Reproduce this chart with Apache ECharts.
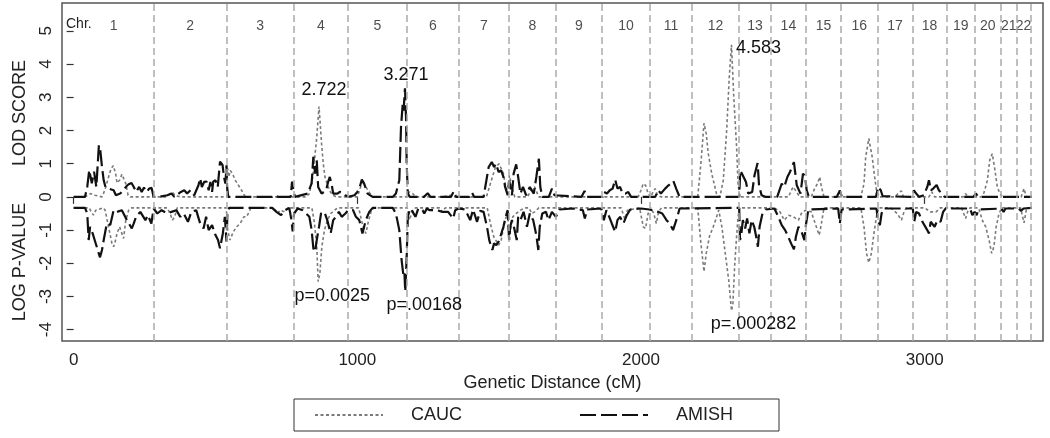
<!DOCTYPE html>
<html>
<head>
<meta charset="utf-8">
<script src="https://cdn.jsdelivr.net/npm/echarts@6/dist/echarts.min.js"></script>
<style>html,body{margin:0;padding:0;background:#fff}#c{width:1050px;height:438px}</style>
</head>
<body>
<div id="c"></div>
<script>
// ---------- DATA (cM, axis value) ----------
const chromNames = ['1','2','3','4','5','6','7','8','9','10','11','12','13','14','15','16','17','18','19','20','21','22'];
const chromEnds = [282,540,775,968,1174,1358,1535,1699,1863,2031,2180,2346,2457,2582,2705,2833,2957,3077,3177,3268,3324,3373];
const xTicks = [0,1000,2000,3000];
const yTicks = [-4,-3,-2,-1,0,1,2,3,4,5];

const caucLod = [[0,0],[40,0],[60,0.1],[75,0.05],[100,0],[110,0.2],[123,0.6],[132,0.85],[140,0.94],[148,0.7],[153,0.42],[162,0.5],[170,0.68],[177,0.71],[184,0.4],[192,0.05],[200,0],
[330,0],[340,0.1],[350,0.12],[360,0.03],[380,0],[540,0],[543,0.85],[547,0.6],[552,0.8],[560,0.7],[570,0.5],[581,0.35],[592,0.2],[605,0],
[820,0],[831,0.1],[843,0.6],[849,1.1],[857,1.8],[865,2.722],[874,1.6],[880,1.0],[886,0.6],[895,0.35],[905,0.15],[915,0.05],[925,0],
[1000,0],[1010,0.25],[1018,0.5],[1030,0.3],[1045,0.1],[1055,0],[1175,0],[1183,0.15],[1195,0.1],[1205,0],
[1300,0],[1330,0.05],[1340,0],
[1455,0],[1469,0.4],[1487,0.9],[1500,1.0],[1507,0.95],[1515,0.7],[1521,0.4],[1530,0.1],[1536,0.65],[1540,0.5],[1548,0.2],[1555,0],
[1600,0],[1615,0.25],[1625,0.3],[1632,0.15],[1640,0],
[1990,0],[2000,0.2],[2008,0.4],[2016,0.35],[2025,0.1],[2035,0],[2042,0.15],[2050,0.25],[2058,0.05],[2070,0],
[2200,0],[2212,1.1],[2222,2.22],[2230,1.9],[2237,1.31],[2249,0.71],[2266,0.1],[2278,0],[2290,0.5],[2302,2.0],[2311,3.6],[2319,4.583],[2327,3.0],[2337,1.5],[2342,0.4],[2348,0],
[2520,0],[2530,0.2],[2537,0.3],[2548,0.15],[2560,0],[2600,0],[2612,0.25],[2622,0.4],[2630,0.6],[2636,0.3],[2645,0],
[2775,0],[2786,0.4],[2792,1.2],[2803,1.76],[2815,1.2],[2822,0.7],[2830,0.2],[2840,0],
[2895,0],[2909,0.13],[2918,0.18],[2925,0],[3015,0],[3025,0.15],[3035,0],[3135,0],[3144,0.1],[3152,0],
[3200,0],[3209,0.13],[3221,0.5],[3229,1.1],[3238,1.3],[3246,0.9],[3256,0.3],[3265,0.1],[3275,0],
[3340,0],[3350,0.25],[3358,0],[3378,0]];

const amishLod = [[0,0],[40,0],[48,0.3],[55,0.81],[64,0.41],[72,0.76],[80,0.3],[89,1.55],[94,1.4],[100,0.9],[106,0.5],[112,0.3],[123,0.25],[141,0.2],[149,0.05],[164,0.1],[176,0.2],[186,0.32],[194,0.38],[204,0.42],[212,0.3],[220,0.15],[231,0.3],[240,0.15],[248,0.28],[258,0.15],[266,0.25],[275,0.27],[282,0],
[300,0],[330,0.05],[345,0.1],[355,0],[378,0.15],[390,0.2],[400,0.1],[412,0.2],[425,0.05],[440,0.35],[446,0.56],[452,0.3],[460,0.45],[469,0.46],[476,0.2],[482,0.45],[488,0.15],[492,0.46],[500,0.5],[508,0.3],[516,1.06],[525,0.96],[530,0.6],[535,0.4],[539,0.95],[541,0.3],[545,0],
[700,0],[708,0.05],[715,0.1],[722,0],[765,0],[770,0.46],[775,0.2],[780,0],
[825,0.1],[839,0.41],[845,1.21],[851,0.7],[857,1.1],[862,0.3],[874,0.1],[890,0.2],[897,0.45],[903,0.6],[910,0.35],[915,0.1],[930,0.1],[938,0.15],[949,0.13],[958,0.05],[968,0],
[990,0.05],[1000,0.15],[1007,0.25],[1016,0.52],[1024,0.4],[1036,0.1],[1054,0],[1125,0],[1136,0.1],[1148,0.5],[1154,2.1],[1160,2.8],[1163,2.6],[1168,3.271],[1172,2.3],[1174,1.0],[1178,0.1],[1185,0],
[1235,0],[1248,0.11],[1258,0],[1330,0],[1340,0.17],[1348,0],
[1395,0],[1404,0.13],[1412,0],[1445,0],[1451,0.3],[1463,0.9],[1474,1.05],[1482,0.9],[1489,1.0],[1498,0.75],[1507,0.8],[1515,0.6],[1521,0.3],[1530,0.05],[1535,0.5],[1539,0.5],[1545,0.05],[1551,0.7],[1560,0.98],[1567,0.6],[1575,0.1],[1584,0.3],[1595,0.05],[1608,0.3],[1622,0.1],[1631,0.6],[1640,1.15],[1645,0.3],[1652,0],
[1675,0],[1686,0.25],[1695,0.05],[1790,0],[1801,0.18],[1810,0],
[1865,0],[1869,0.15],[1880,0.1],[1890,0.2],[1900,0.25],[1909,0.52],[1917,0.25],[1926,0.3],[1935,0.1],[1945,0.1],[1955,0.15],[1965,0],
[2050,0],[2061,0.2],[2070,0.1],[2085,0.25],[2097,0.35],[2105,0.4],[2114,0.48],[2124,0.25],[2136,0],
[2346,0],[2350,0.8],[2356,0.7],[2362,0.65],[2370,0.45],[2378,0.1],[2392,0.15],[2400,0.65],[2411,1.02],[2416,0.35],[2425,0.05],[2440,0],
[2480,0],[2490,0.25],[2496,0.4],[2505,0.3],[2516,0.6],[2525,0.75],[2539,1.05],[2544,0.7],[2549,0.35],[2562,0.1],[2571,0.7],[2578,0.63],[2584,0.2],[2592,0],
[2690,0],[2701,0.19],[2708,0],[2828,0],[2836,0.3],[2845,0.2],[2852,0.02],[2955,0],[2962,0.2],[2970,0.1],[2980,0],[2997,0.05],[3009,0.3],[3015,0.5],[3022,0.2],[3030,0.25],[3042,0.36],[3050,0.2],[3060,0.1],[3070,0],
[3172,0],[3180,0.1],[3190,0],[3378,0]];

const caucLogP = [[0,-0.33],[55,-0.33],[62,-0.45],[70,-0.55],[78,-0.4],[105,-0.33],[111,-0.4],[123,-0.9],[135,-1.4],[141,-1.5],[148,-1.3],[153,-1.1],[162,-0.9],[170,-1.1],[176,-1.25],[184,-0.7],[194,-0.4],[205,-0.33],
[330,-0.33],[340,-0.5],[348,-0.7],[356,-0.6],[365,-0.33],[538,-0.33],[543,-1.0],[551,-1.3],[563,-1.05],[575,-0.9],[587,-0.8],[600,-0.6],[610,-0.6],[625,-0.33],
[705,-0.33],[719,-0.5],[728,-0.4],[745,-0.45],[755,-0.33],
[840,-0.33],[849,-0.8],[857,-1.5],[862,-2.55],[868,-2.3],[875,-1.5],[884,-1.0],[895,-0.7],[906,-0.5],[920,-0.4],[930,-0.33],
[1005,-0.33],[1012,-0.6],[1020,-0.9],[1030,-1.1],[1040,-0.7],[1050,-0.4],[1060,-0.33],[1176,-0.33],[1183,-0.7],[1192,-0.5],[1205,-0.33],
[1290,-0.33],[1300,-0.45],[1310,-0.33],
[1458,-0.33],[1469,-0.8],[1481,-1.2],[1498,-1.45],[1507,-1.3],[1521,-0.7],[1530,-0.5],[1536,-1.3],[1540,-1.0],[1548,-0.6],[1560,-0.5],[1575,-0.4],[1590,-0.33],
[1605,-0.33],[1615,-0.5],[1625,-0.45],[1640,-0.33],
[1930,-0.33],[1943,-0.67],[1952,-0.4],[1995,-0.33],[2008,-0.9],[2016,-0.95],[2025,-0.5],[2035,-0.33],[2045,-0.5],[2054,-0.8],[2062,-0.45],[2072,-0.33],
[2200,-0.33],[2210,-1.3],[2222,-2.25],[2230,-1.7],[2241,-1.2],[2259,-0.8],[2274,-0.4],[2285,-0.9],[2297,-1.7],[2309,-2.5],[2319,-3.43],[2324,-3.2],[2330,-2.1],[2336,-1.3],[2342,-0.6],[2348,-0.33],
[2470,-0.33],[2490,-0.45],[2505,-0.7],[2520,-0.55],[2537,-0.6],[2555,-0.7],[2565,-0.5],[2580,-0.4],[2600,-0.45],[2614,-0.8],[2628,-1.15],[2634,-0.9],[2645,-0.33],
[2775,-0.33],[2786,-0.9],[2795,-1.7],[2803,-1.98],[2812,-1.7],[2821,-1.1],[2830,-0.6],[2838,-0.33],
[2880,-0.33],[2903,-0.5],[2918,-0.7],[2927,-0.45],[2935,-0.33],[3000,-0.33],[3020,-0.45],[3040,-0.45],[3055,-0.33],
[3130,-0.33],[3144,-0.65],[3153,-0.4],[3160,-0.33],[3190,-0.33],[3203,-0.7],[3215,-0.9],[3227,-1.3],[3236,-1.7],[3244,-1.5],[3252,-0.9],[3262,-0.5],[3272,-0.33],
[3338,-0.33],[3350,-0.78],[3358,-0.4],[3365,-0.33],[3378,-0.33]];

const amishLogP = [[0,-0.33],[40,-0.33],[48,-0.5],[53,-1.3],[58,-0.9],[67,-1.1],[76,-1.35],[85,-1.6],[93,-1.82],[100,-1.6],[106,-1.3],[117,-0.8],[129,-0.85],[141,-0.4],[153,-0.45],[170,-0.4],[188,-0.7],[205,-0.95],[212,-0.8],[220,-0.6],[235,-0.45],[253,-0.7],[262,-0.55],[274,-0.8],[282,-0.35],
[295,-0.5],[310,-0.4],[330,-0.5],[345,-0.45],[362,-0.4],[376,-0.6],[388,-0.5],[403,-0.75],[415,-0.45],[432,-0.4],[446,-0.8],[458,-0.95],[467,-0.6],[476,-1.0],[488,-0.85],[500,-1.15],[509,-1.3],[516,-1.55],[526,-1.1],[533,-0.6],[539,-1.35],[542,-0.5],[548,-0.33],
[700,-0.33],[715,-0.45],[731,-0.55],[745,-0.4],[760,-0.33],[768,-0.7],[772,-1.04],[777,-0.5],[790,-0.35],[807,-0.4],[831,-0.6],[839,-1.0],[845,-1.55],[851,-1.65],[857,-1.3],[865,-0.9],[872,-0.5],[884,-0.45],[894,-0.7],[906,-1.1],[915,-0.7],[925,-0.6],[935,-0.45],[945,-0.6],[958,-0.5],[968,-0.4],
[985,-0.4],[995,-0.6],[1007,-0.7],[1018,-1.1],[1030,-0.7],[1042,-0.45],[1054,-0.33],[1125,-0.33],[1136,-0.5],[1148,-1.0],[1156,-1.9],[1163,-2.4],[1166,-2.3],[1169,-2.85],[1174,-1.8],[1178,-0.6],[1186,-0.35],
[1195,-0.45],[1205,-0.6],[1215,-0.35],[1230,-0.4],[1236,-0.5],[1245,-0.35],[1255,-0.4],[1280,-0.4],[1300,-0.45],[1320,-0.45],[1338,-0.65],[1345,-0.4],[1357,-0.35],
[1380,-0.38],[1398,-0.7],[1408,-0.38],[1422,-0.75],[1433,-0.42],[1445,-0.45],[1457,-0.9],[1465,-1.3],[1476,-1.6],[1482,-1.4],[1490,-1.45],[1498,-1.35],[1504,-1.2],[1515,-0.9],[1523,-0.6],[1530,-0.4],[1535,-1.3],[1539,-0.9],[1545,-0.7],[1552,-0.9],[1557,-1.1],[1562,-1.3],[1567,-0.6],[1575,-0.7],[1586,-0.45],[1598,-0.9],[1608,-0.5],[1620,-0.7],[1631,-1.15],[1638,-1.6],[1643,-0.9],[1652,-0.5],[1665,-0.45],[1674,-0.7],[1686,-0.45],[1700,-0.6],[1712,-0.38],
[1760,-0.35],[1795,-0.4],[1802,-0.65],[1810,-0.38],[1860,-0.35],[1869,-0.7],[1878,-0.4],[1888,-0.6],[1897,-0.8],[1909,-1.05],[1917,-0.7],[1926,-0.6],[1938,-0.8],[1950,-0.55],[1962,-0.38],[2000,-0.35],[2030,-0.38],
[2060,-0.45],[2075,-0.5],[2090,-0.7],[2101,-0.8],[2113,-1.0],[2119,-1.05],[2128,-0.6],[2136,-0.35],
[2346,-0.33],[2349,-1.3],[2354,-1.1],[2359,-0.7],[2367,-0.95],[2374,-0.65],[2382,-1.1],[2390,-0.7],[2399,-0.9],[2406,-1.2],[2412,-1.5],[2418,-0.9],[2428,-0.5],[2440,-0.38],
[2470,-0.35],[2484,-0.6],[2496,-0.85],[2508,-1.0],[2519,-1.2],[2529,-1.4],[2539,-1.58],[2546,-1.2],[2555,-0.9],[2566,-1.05],[2576,-1.3],[2582,-0.8],[2590,-0.38],
[2695,-0.35],[2701,-0.8],[2707,-0.38],[2830,-0.35],[2836,-0.75],[2842,-0.85],[2848,-0.5],[2855,-0.35],
[2958,-0.35],[2963,-0.75],[2970,-0.45],[2980,-0.5],[2992,-0.75],[3009,-1.0],[3015,-1.1],[3021,-0.75],[3027,-0.7],[3035,-0.9],[3045,-0.7],[3056,-0.75],[3065,-0.45],[3074,-0.35],
[3160,-0.35],[3168,-0.55],[3176,-0.45],[3183,-0.55],[3190,-0.38],[3270,-0.35],[3278,-0.45],[3285,-0.35],[3330,-0.35],[3340,-0.42],[3348,-0.35],[3378,-0.33]];

const lodNotes = [['2.722',865,2.722],['3.271',1168,3.271],['4.583',2319,4.583]];
const pNotes = [['p=0.0025',862,-2.55],['p=.00168',1169,-2.85],['p=.000282',2319,-3.43]];

// ---------- CHART ----------
const FONT = 'Liberation Sans, Arial, sans-serif';
const chrLabelY = 5.15;
const starts = [0].concat(chromEnds.slice(0, -1));
const chrLabelData = chromNames.map((n, i) => ({ name: n, value: [(starts[i] + chromEnds[i]) / 2, chrLabelY] }));

const lodOffsets = [[5,-16],[1,-13],[27,3]];
const pOffsets = [[14,14],[19,14],[22,13]];
function notes(list, offs) {
  return list.map((n, i) => ({
    coord: [n[1], n[2]], symbol: 'circle', symbolSize: 0,
    label: { show: true, formatter: n[0], position: 'inside', offset: offs[i],
      color: '#111', fontSize: 18, fontFamily: FONT, align: 'center', verticalAlign: 'middle' }
  }));
}

const caucStyle = { color: '#7a7a7a', width: 1.6, type: [3, 2.5] };
const amishStyle = { color: '#111', width: 2.2, type: [16, 5] };

const chart = echarts.init(document.getElementById('c'), null, { renderer: 'canvas' });
chart.setOption({
  animation: false,
  backgroundColor: '#fff',
  grid: { left: 62, top: 3, right: 7, bottom: 97, show: true, borderColor: '#555', borderWidth: 1.5, backgroundColor: 'transparent' },
  xAxis: {
    type: 'value', min: -41, max: 3417,
    axisLine: { show: false },
    axisTick: { show: true, length: 7, lineStyle: { color: '#333', width: 1.2 }, customValues: xTicks },
    axisLabel: { customValues: xTicks, formatter: v => String(v), margin: 11, fontSize: 17, color: '#222', fontFamily: FONT },
    splitLine: { show: false },
    name: 'Genetic Distance (cM)', nameLocation: 'middle', nameGap: 31,
    nameTextStyle: { fontSize: 18, color: '#222', fontFamily: FONT }
  },
  yAxis: {
    type: 'value', min: -4.34, max: 5.84,
    axisLine: { show: false },
    axisTick: { show: true, length: 7, lineStyle: { color: '#333', width: 1.2 }, customValues: yTicks },
    axisLabel: { customValues: yTicks, formatter: v => String(v), rotate: 90, margin: 7, fontSize: 17, color: '#222', fontFamily: FONT },
    splitLine: { show: false }
  },
  legend: {
    left: 294, top: 399, orient: 'horizontal',
    data: ['CAUC', 'AMISH'],
    itemWidth: 68, itemHeight: 14, itemGap: 117,
    padding: [7, 46, 7, 20],
    borderColor: '#333', borderWidth: 1,
    itemStyle: { opacity: 0 },
    textStyle: { fontSize: 18, color: '#222', fontFamily: FONT, padding: [0, 0, 0, 23] }
  },
  graphic: [
    { type: 'text', x: 20, y: 113, rotation: Math.PI / 2,
      style: { text: 'LOD SCORE', font: '18px ' + FONT, fill: '#222', textAlign: 'center', textVerticalAlign: 'middle' } },
    { type: 'text', x: 20, y: 262, rotation: Math.PI / 2,
      style: { text: 'LOG P-VALUE', font: '18px ' + FONT, fill: '#222', textAlign: 'center', textVerticalAlign: 'middle' } },
    { type: 'text', left: 66, top: 17,
      style: { text: 'Chr.', font: '14px ' + FONT, fill: '#222' } }
  ],
  series: [
    { name: 'chromosomes', type: 'scatter', data: chrLabelData, symbolSize: 0, silent: true,
      label: { show: true, formatter: p => p.name, position: 'inside', color: '#222', fontSize: 14, fontFamily: FONT },
      markLine: { silent: true, symbol: ['none', 'none'], label: { show: false },
        lineStyle: { color: '#aaa', width: 1.5, type: [7, 4] },
        data: chromEnds.map(e => ({ xAxis: e })) } },
    { name: 'CAUC', type: 'line', data: caucLod, symbol: 'none', lineStyle: caucStyle, itemStyle: { color: '#7a7a7a' },
      markPoint: { silent: true, data: notes([lodNotes[0], lodNotes[2]], [lodOffsets[0], lodOffsets[2]]) } },
    { name: 'CAUC', type: 'line', data: caucLogP, symbol: 'none', lineStyle: caucStyle, itemStyle: { color: '#7a7a7a' },
      markPoint: { silent: true, data: notes([pNotes[0], pNotes[2]], [pOffsets[0], pOffsets[2]]) } },
    { name: 'AMISH', type: 'line', data: amishLod, symbol: 'none', lineStyle: amishStyle, itemStyle: { color: '#111' },
      markPoint: { silent: true, data: notes([lodNotes[1]], [lodOffsets[1]]) } },
    { name: 'AMISH', type: 'line', data: amishLogP, symbol: 'none', lineStyle: amishStyle, itemStyle: { color: '#111' },
      markPoint: { silent: true, data: notes([pNotes[1]], [pOffsets[1]]) } }
  ]
});
</script>
</body>
</html>
